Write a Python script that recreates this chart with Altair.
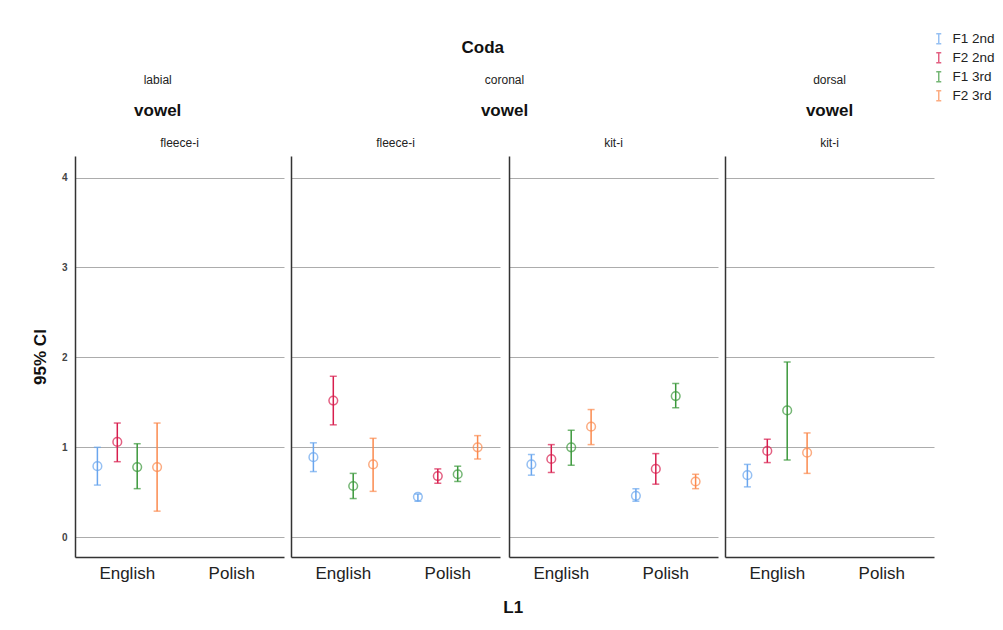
import altair as alt
import pandas as pd

# Series (formant x syllable) and their colours
series = ["F1 2nd", "F2 2nd", "F1 3rd", "F2 3rd"]
colors = ["#6aa6ee", "#d81e4e", "#3b983b", "#fb8a4e"]
l1_levels = ["English", "Polish"]

# Mean and 95% CI bounds, in series order
labial_fleece_en_mean = [0.79, 1.06, 0.78, 0.78]
labial_fleece_en_lo = [0.58, 0.84, 0.54, 0.29]
labial_fleece_en_hi = [1.00, 1.27, 1.04, 1.27]

coronal_fleece_en_mean = [0.89, 1.52, 0.57, 0.81]
coronal_fleece_en_lo = [0.73, 1.25, 0.43, 0.51]
coronal_fleece_en_hi = [1.05, 1.79, 0.71, 1.10]
coronal_fleece_pl_mean = [0.45, 0.68, 0.70, 1.00]
coronal_fleece_pl_lo = [0.40, 0.60, 0.62, 0.87]
coronal_fleece_pl_hi = [0.48, 0.76, 0.79, 1.13]

coronal_kit_en_mean = [0.81, 0.87, 1.00, 1.23]
coronal_kit_en_lo = [0.69, 0.72, 0.80, 1.03]
coronal_kit_en_hi = [0.92, 1.03, 1.19, 1.42]
coronal_kit_pl_mean = [0.46, 0.76, 1.57, 0.62]
coronal_kit_pl_lo = [0.40, 0.59, 1.44, 0.54]
coronal_kit_pl_hi = [0.54, 0.93, 1.71, 0.70]

dorsal_kit_en_mean = [0.69, 0.96, 1.41, 0.94]
dorsal_kit_en_lo = [0.56, 0.83, 0.86, 0.71]
dorsal_kit_en_hi = [0.81, 1.09, 1.95, 1.16]

groups = [
    ("labial", "fleece-i", "English", labial_fleece_en_mean, labial_fleece_en_lo, labial_fleece_en_hi),
    ("coronal", "fleece-i", "English", coronal_fleece_en_mean, coronal_fleece_en_lo, coronal_fleece_en_hi),
    ("coronal", "fleece-i", "Polish", coronal_fleece_pl_mean, coronal_fleece_pl_lo, coronal_fleece_pl_hi),
    ("coronal", "kit-i", "English", coronal_kit_en_mean, coronal_kit_en_lo, coronal_kit_en_hi),
    ("coronal", "kit-i", "Polish", coronal_kit_pl_mean, coronal_kit_pl_lo, coronal_kit_pl_hi),
    ("dorsal", "kit-i", "English", dorsal_kit_en_mean, dorsal_kit_en_lo, dorsal_kit_en_hi),
]

rows = []
for coda, vowel, l1, means, los, his in groups:
    for s, m, lo, hi in zip(series, means, los, his):
        rows.append({"coda": coda, "vowel": vowel, "L1": l1, "series": s,
                     "mean": m, "lo": lo, "hi": hi})
df = pd.DataFrame(rows)

PANEL_W = 209
PANEL_H = 401
y_scale = alt.Scale(domain=[-0.22, 4.24], nice=False, zero=False)
color_enc = alt.Color(
    "series:N",
    scale=alt.Scale(domain=series, range=colors),
    legend=alt.Legend(title=None, orient="none", legendX=857, legendY=-124),
)


def panel(coda, vowel, first):
    d = df[(df["coda"] == coda) & (df["vowel"] == vowel)]
    if first:
        y_axis = alt.Axis(title="95% CI", values=[0, 1, 2, 3, 4], ticks=False,
                          labelFontSize=10, labelFontWeight="bold", labelColor="#444",
                          labelPadding=8, titleFontSize=17, titleFontWeight="bold",
                          titlePadding=12, titleColor="#111")
    else:
        y_axis = alt.Axis(title=None, values=[0, 1, 2, 3, 4], ticks=False, labels=False)
    base = alt.Chart(d).encode(
        x=alt.X("L1:N", scale=alt.Scale(domain=l1_levels, paddingInner=0, paddingOuter=0),
                axis=alt.Axis(title=None, labelAngle=0, ticks=False, labelFontSize=17,
                              labelColor="#222", labelPadding=8)),
        xOffset=alt.XOffset("series:N",
                            scale=alt.Scale(domain=series, paddingInner=0, paddingOuter=0.625)),
        color=color_enc,
    )
    rule = base.mark_rule(strokeWidth=1.5).encode(
        y=alt.Y("lo:Q", scale=y_scale, axis=y_axis), y2="hi:Q")
    cap_lo = base.mark_tick(size=7, thickness=1.5).encode(
        y=alt.Y("lo:Q", scale=y_scale, axis=y_axis))
    cap_hi = base.mark_tick(size=7, thickness=1.5).encode(
        y=alt.Y("hi:Q", scale=y_scale, axis=y_axis))
    pts = base.mark_point(shape="circle", filled=False, size=75, strokeWidth=1.5).encode(
        y=alt.Y("mean:Q", scale=y_scale, axis=y_axis))
    return alt.layer(rule, cap_lo, cap_hi, pts).properties(
        width=PANEL_W, height=PANEL_H,
        title=alt.Title(vowel, fontSize=12, fontWeight="normal", color="#222",
                        anchor="middle", offset=6),
    )


def coda_title(name):
    return alt.Title(name, subtitle="vowel", fontSize=12, fontWeight="normal", color="#222",
                     subtitleFontSize=17, subtitleFontWeight="bold", subtitleColor="#111",
                     subtitlePadding=16, anchor="middle", offset=17)


g_labial = alt.hconcat(panel("labial", "fleece-i", True), title=coda_title("labial"))
g_coronal = alt.hconcat(panel("coronal", "fleece-i", False), panel("coronal", "kit-i", False),
                        spacing=9, title=coda_title("coronal"))
g_dorsal = alt.hconcat(panel("dorsal", "kit-i", False), title=coda_title("dorsal"))

coda_row = alt.hconcat(
    g_labial, g_coronal, g_dorsal, spacing=7,
    title=alt.Title("Coda", fontSize=17, fontWeight="bold", color="#111",
                    anchor="middle", offset=17),
)

chart = alt.vconcat(
    coda_row,
    title=alt.Title("L1", orient="bottom", fontSize=17, fontWeight="bold", color="#111",
                    anchor="middle", offset=19),
).properties(
    padding={"left": 31, "top": 32, "right": 0, "bottom": 5},
).configure(
    font="Liberation Sans",
).configure_view(
    stroke=None,
).configure_axis(
    domainColor="#333", domainWidth=1.5, gridColor="#acacac", gridWidth=1,
).configure_legend(
    labelFontSize=13.5, labelColor="#222", labelOffset=7,
    symbolType="M-0.5,-1H0.5M0,-1V1M-0.5,1H0.5", symbolSize=100,
    symbolStrokeWidth=1.5, symbolFillColor="transparent", rowPadding=2,
)

chart.save("out.html", embed_options={"renderer": "svg", "actions": False})
